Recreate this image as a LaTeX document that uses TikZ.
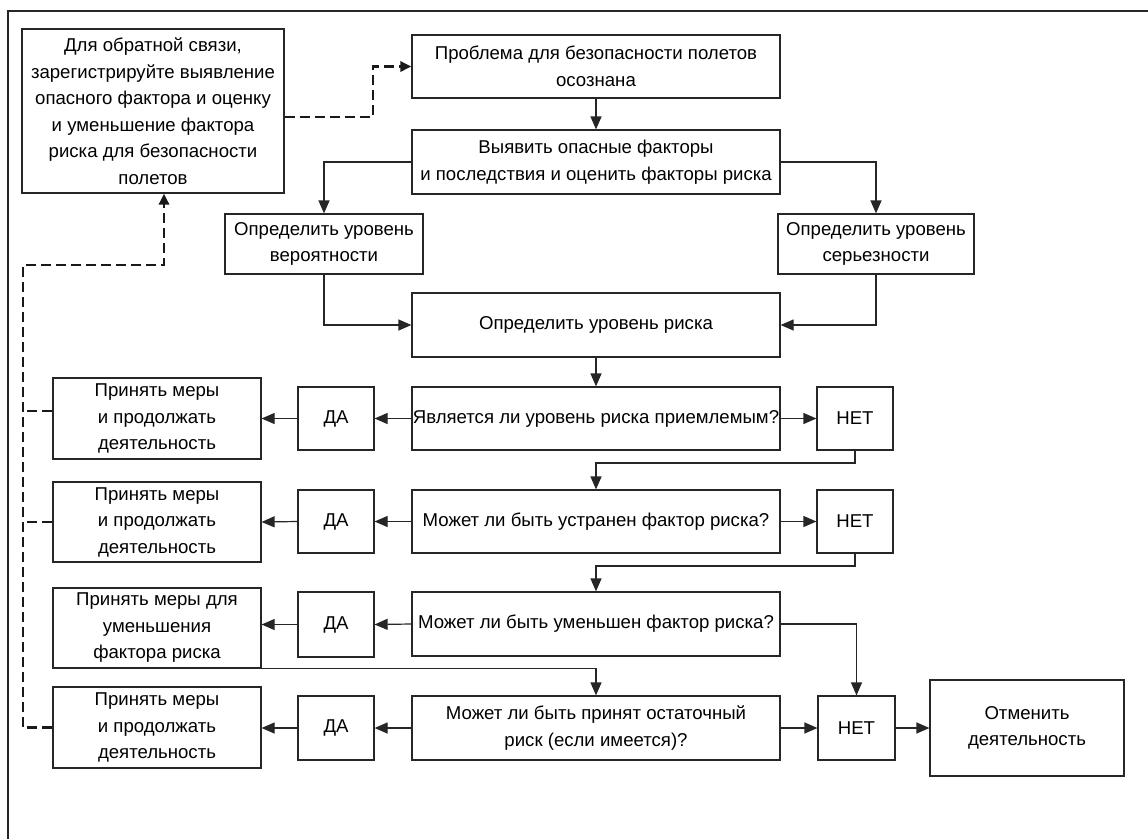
\documentclass[tikz,border=0pt]{standalone}
\usepackage{fontspec}
\setmainfont{Liberation Sans}
\usetikzlibrary{arrows.meta,calc}
\begin{document}
\begin{tikzpicture}[x=1pt,y=-1pt,
  font=\fontsize{18.6}{26.5}\selectfont,
  box/.style={draw=black!85,line width=1.2pt,inner sep=0pt,align=center,text=black,anchor=center},
  conn/.style={draw=black!85,line width=1.2pt,-{Triangle[length=13pt,width=11pt]}},
  plain/.style={draw=black!85,line width=1.2pt},
  fbk/.style={draw=black!90,line width=2.8pt,dash pattern=on 10pt off 5pt},
  fbka/.style={fbk,-{Triangle[length=11pt,width=10pt]}}]
\useasboundingbox (0,0) rectangle (1148,839);
\fill[white] (0,0) rectangle (1148,839);
\draw[plain] (8,839) -- (8,11) -- (1148,11);
% nodes
\node[box,minimum width=262,minimum height=164] (fb) at (153,111)
  {Для обратной связи,\\зарегистрируйте выявление\\опасного фактора и оценку\\и уменьшение фактора\\риска для безопасности\\полетов};
\node[box,minimum width=368,minimum height=63] (pr) at (596,66.5) {Проблема для безопасности полетов\\осознана};
\node[box,minimum width=368,minimum height=64] (id) at (596,162) {Выявить опасные факторы\\и последствия и оценить факторы риска};
\node[box,minimum width=198,minimum height=60] (pv) at (324,244) {Определить уровень\\вероятности};
\node[box,minimum width=196,minimum height=60] (sv) at (876,244) {Определить уровень\\серьезности};
\node[box,minimum width=368,minimum height=64] (rl) at (596,325) {Определить уровень риска};
\node[box,minimum width=368,minimum height=63] (q1) at (596,418.5) {Является ли уровень риска приемлемым?};
\node[box,minimum width=76,minimum height=63] (n1) at (855,418.5) {НЕТ};
\node[box,minimum width=76,minimum height=63] (da1) at (336,418.5) {ДА};
\node[box,minimum width=208,minimum height=81] (a1) at (157,418.5) {Принять меры\\и продолжать\\деятельность};
\node[box,minimum width=368,minimum height=63] (q2) at (596,521.5) {Может ли быть устранен фактор риска?};
\node[box,minimum width=76,minimum height=63] (n2) at (855,521.5) {НЕТ};
\node[box,minimum width=76,minimum height=63] (da2) at (336,521.5) {ДА};
\node[box,minimum width=208,minimum height=80] (a2) at (157,522) {Принять меры\\и продолжать\\деятельность};
\node[box,minimum width=368,minimum height=64] (q3) at (596,624) {Может ли быть уменьшен фактор риска?};
\node[box,minimum width=76,minimum height=65] (da3) at (336,624.5) {ДА};
\node[box,minimum width=208,minimum height=80] (a3) at (157,628) {Принять меры для\\уменьшения\\фактора риска};
\node[box,minimum width=368,minimum height=64] (q4) at (596,728) {Может ли быть принят остаточный\\риск (если имеется)?};
\node[box,minimum width=77,minimum height=64] (n3) at (856.5,728) {НЕТ};
\node[box,minimum width=76,minimum height=64] (da4) at (336,728) {ДА};
\node[box,minimum width=208,minimum height=81] (a4) at (157,727.5) {Принять меры\\и продолжать\\деятельность};
\node[box,minimum width=194,minimum height=96] (cn) at (1027,728) {Отменить\\деятельность};
% solid connectors
\draw[conn] (pr) -- (id);
\draw[conn] (id.west) -| (pv.north);
\draw[conn] (id.east) -| (sv.north);
\draw[conn] (pv.south) |- (rl.west);
\draw[conn] (sv.south) |- (rl.east);
\draw[conn] (rl) -- (q1);
\draw[conn] (q1.east) -- (n1.west);
\draw[conn] (q1.west) -- (da1.east);
\draw[conn] (da1.west) -- (a1.east);
\draw[conn] (n1.south) -- (n1.south |- 0,463) -| (q2.north);
\draw[conn] (q2.east) -- (n2.west);
\draw[conn] (q2.west) -- (da2.east);
\draw[conn] (da2.west) -- (a2.east);
\draw[conn] (n2.south) -- (n2.south |- 0,566) -| (q3.north);
\draw[conn] (q3.west) -- (da3.west -| da3.east);
\draw[conn] (da3.west) -- (a3.east |- da3.west);
\draw[conn] (q3.east) -| (n3.north);
\draw[conn] (a3.south east) -| (q4.north);
\draw[conn] (q4.west) -- (da4.east);
\draw[conn] (da4.west) -- (a4.east |- da4.west);
\draw[conn] (q4.east) -- (n3.west);
\draw[conn] (n3.east) -- (cn.west);
% dashed feedback
\coordinate (d1) at (23,265);
\coordinate (d2) at (164,265);
\draw[fbka] (fb.east |- 0,117) -- (373,117) |- (pr.west);
\draw[fbka] (a4.west) -| (d1) -- (d2) -- (d2 |- fb.south);
\draw[fbk] (a1.west |- 0,411) -- (d1 |- 0,411);
\draw[fbk] (a2.west) -- (a2.west -| d1);
\end{tikzpicture}
\end{document}
